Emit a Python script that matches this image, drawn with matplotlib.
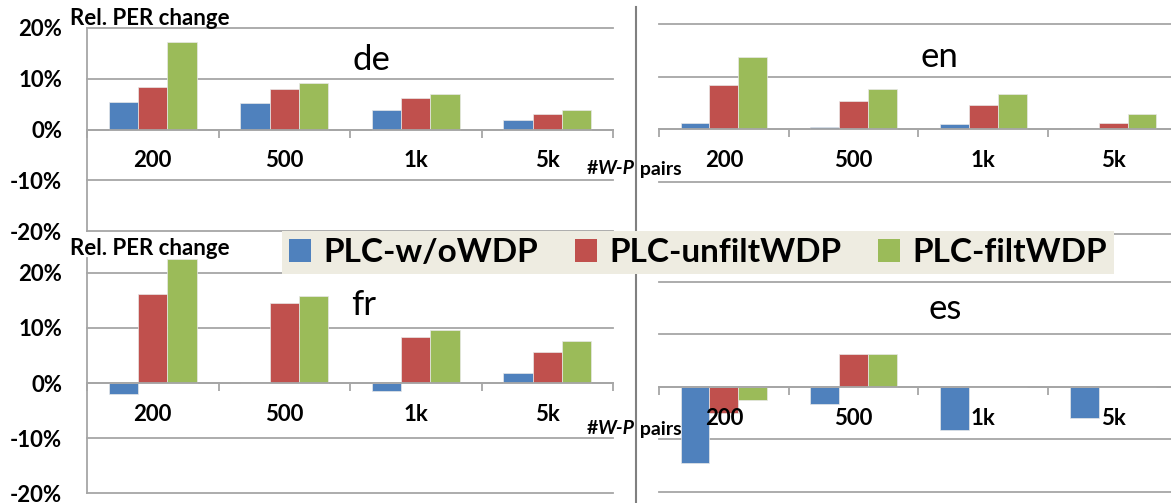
import numpy as np
import matplotlib.pyplot as plt
from matplotlib.lines import Line2D
from matplotlib.patches import Patch
from matplotlib.ticker import FuncFormatter

plt.rcParams['font.family'] = ['Lato', 'DejaVu Sans']

# data (relative PER change, %)
sizes = ['200', '500', '1k', '5k']
series = ['PLC-w/oWDP', 'PLC-unfiltWDP', 'PLC-filtWDP']
colors = ['#4F81BD', '#C0504D', '#9BBB59']

de_wo = [5.5, 5.3, 3.9, 1.9]
de_unfilt = [8.3, 8.0, 6.2, 3.0]
de_filt = [17.2, 9.1, 6.9, 3.9]

en_wo = [1.1, 0.4, 0.9, 0.0]
en_unfilt = [8.4, 5.3, 4.6, 1.1]
en_filt = [13.7, 7.7, 6.7, 2.9]

fr_wo = [-2.0, 0.0, -1.4, 1.9]
fr_unfilt = [16.1, 14.6, 8.4, 5.7]
fr_filt = [22.5, 15.8, 9.7, 7.7]

es_wo = [-14.5, -3.2, -8.3, -6.0]
es_unfilt = [-5.1, 6.3, 0.0, 0.0]
es_filt = [-2.5, 6.3, 0.0, 0.0]

W, H = 1171, 503
fig = plt.figure(figsize=(W / 100, H / 100), dpi=100)

def fx(px):
    return px / W

def fy(py):
    return 1 - py / H

def box(x0, x1, ytop, ybot):
    return [fx(x0), fy(ybot), (x1 - x0) / W, (ybot - ytop) / H]

grid_c = '#A6A6A6'
x = np.arange(len(sizes))
w = 1 / 4.5

def panel(rect, data, ytop, left):
    ax = fig.add_axes(rect)
    ax.set_axisbelow(False)  # category labels sit on top of the bars
    ax.set_xlim(-0.5, 3.5)
    ax.set_ylim(-20, ytop)
    for g in [-20, -10, 0, 10, 20]:
        ax.axhline(g, color=grid_c, lw=1.3, zorder=1, clip_on=False)
    for k, vals in enumerate(data):
        ax.bar(x + (k - 1) * w, vals, w, color=colors[k], edgecolor='#E8E8E8',
               lw=0.5, zorder=2)
    for s in ['top', 'right']:
        ax.spines[s].set_visible(False)
    ax.spines['bottom'].set_position(('data', 0))
    ax.spines['bottom'].set_color(grid_c)
    ax.spines['bottom'].set_linewidth(1.3)
    ax.set_xticks(x)
    ax.set_xticklabels(sizes, fontsize=16, fontweight='bold')
    ax.set_xticks(np.arange(-0.5, 4, 1), minor=True)
    ax.tick_params(axis='x', which='major', length=0, pad=15)
    ax.tick_params(axis='x', which='minor', length=6, width=1.3, color=grid_c, direction='out')
    if left:
        ax.spines['left'].set_color(grid_c)
        ax.spines['left'].set_linewidth(1.3)
        ax.set_yticks([-20, -10, 0, 10, 20])
        ax.yaxis.set_major_formatter(FuncFormatter(lambda v, p: f'{v:.0f}%'))
        ax.tick_params(axis='y', length=0, pad=18, labelsize=16)
        for t in ax.get_yticklabels():
            t.set_fontweight('bold')
    else:
        ax.spines['left'].set_visible(False)
        ax.set_yticks([])
    ax.patch.set_alpha(0)
    return ax

panel(box(87, 613, 28, 231), [de_wo, de_unfilt, de_filt], 20, True)
panel(box(659, 1178, 24.3, 234), [en_wo, en_unfilt, en_filt], 20, False)
panel(box(87, 613, 258, 493.3), [fr_wo, fr_unfilt, fr_filt], 22.7, True)
panel(box(659, 1178, 281.7, 491.7), [es_wo, es_unfilt, es_filt], 20, False)

# divider
fig.add_artist(Line2D([fx(636), fx(636)], [fy(7), fy(503)], color='#808080', lw=1.5))

# panel titles
for name, px, py in [('de', 371, 60), ('en', 939, 57), ('fr', 364, 305), ('es', 945, 309)]:
    fig.text(fx(px), fy(py), name, fontsize=25, ha='center', va='center')

# y axis titles
for py in [25, 255]:
    fig.text(fx(70), fy(py), 'Rel. PER change', fontsize=16, fontweight='bold',
             ha='left', va='baseline')

# x axis titles, pieces placed one after another
renderer = fig.canvas.get_renderer()
for py in [169, 429]:
    xpos = 587
    for piece, st in [('#', 'normal'), ('W-P', 'italic'), (' pairs', 'normal')]:
        t = fig.text(fx(xpos), fy(py), piece, fontsize=14, fontweight='bold', style=st,
                     ha='left', va='center')
        xpos += t.get_window_extent(renderer).width

handles = [Patch(facecolor=c, edgecolor='none') for c in colors]
leg = fig.legend(handles, series, loc='center', bbox_to_anchor=(fx(698), fy(252.5)),
                 ncol=3, frameon=True, facecolor='#EEECE1', edgecolor='none', framealpha=1,
                 fancybox=False, prop=dict(weight='bold', size=24), handlelength=0.67,
                 handleheight=0.67, handletextpad=0.36, columnspacing=1.1, borderpad=0.2,
                 borderaxespad=0)
leg.set_zorder(10)

fig.savefig('out.png', dpi=100)
